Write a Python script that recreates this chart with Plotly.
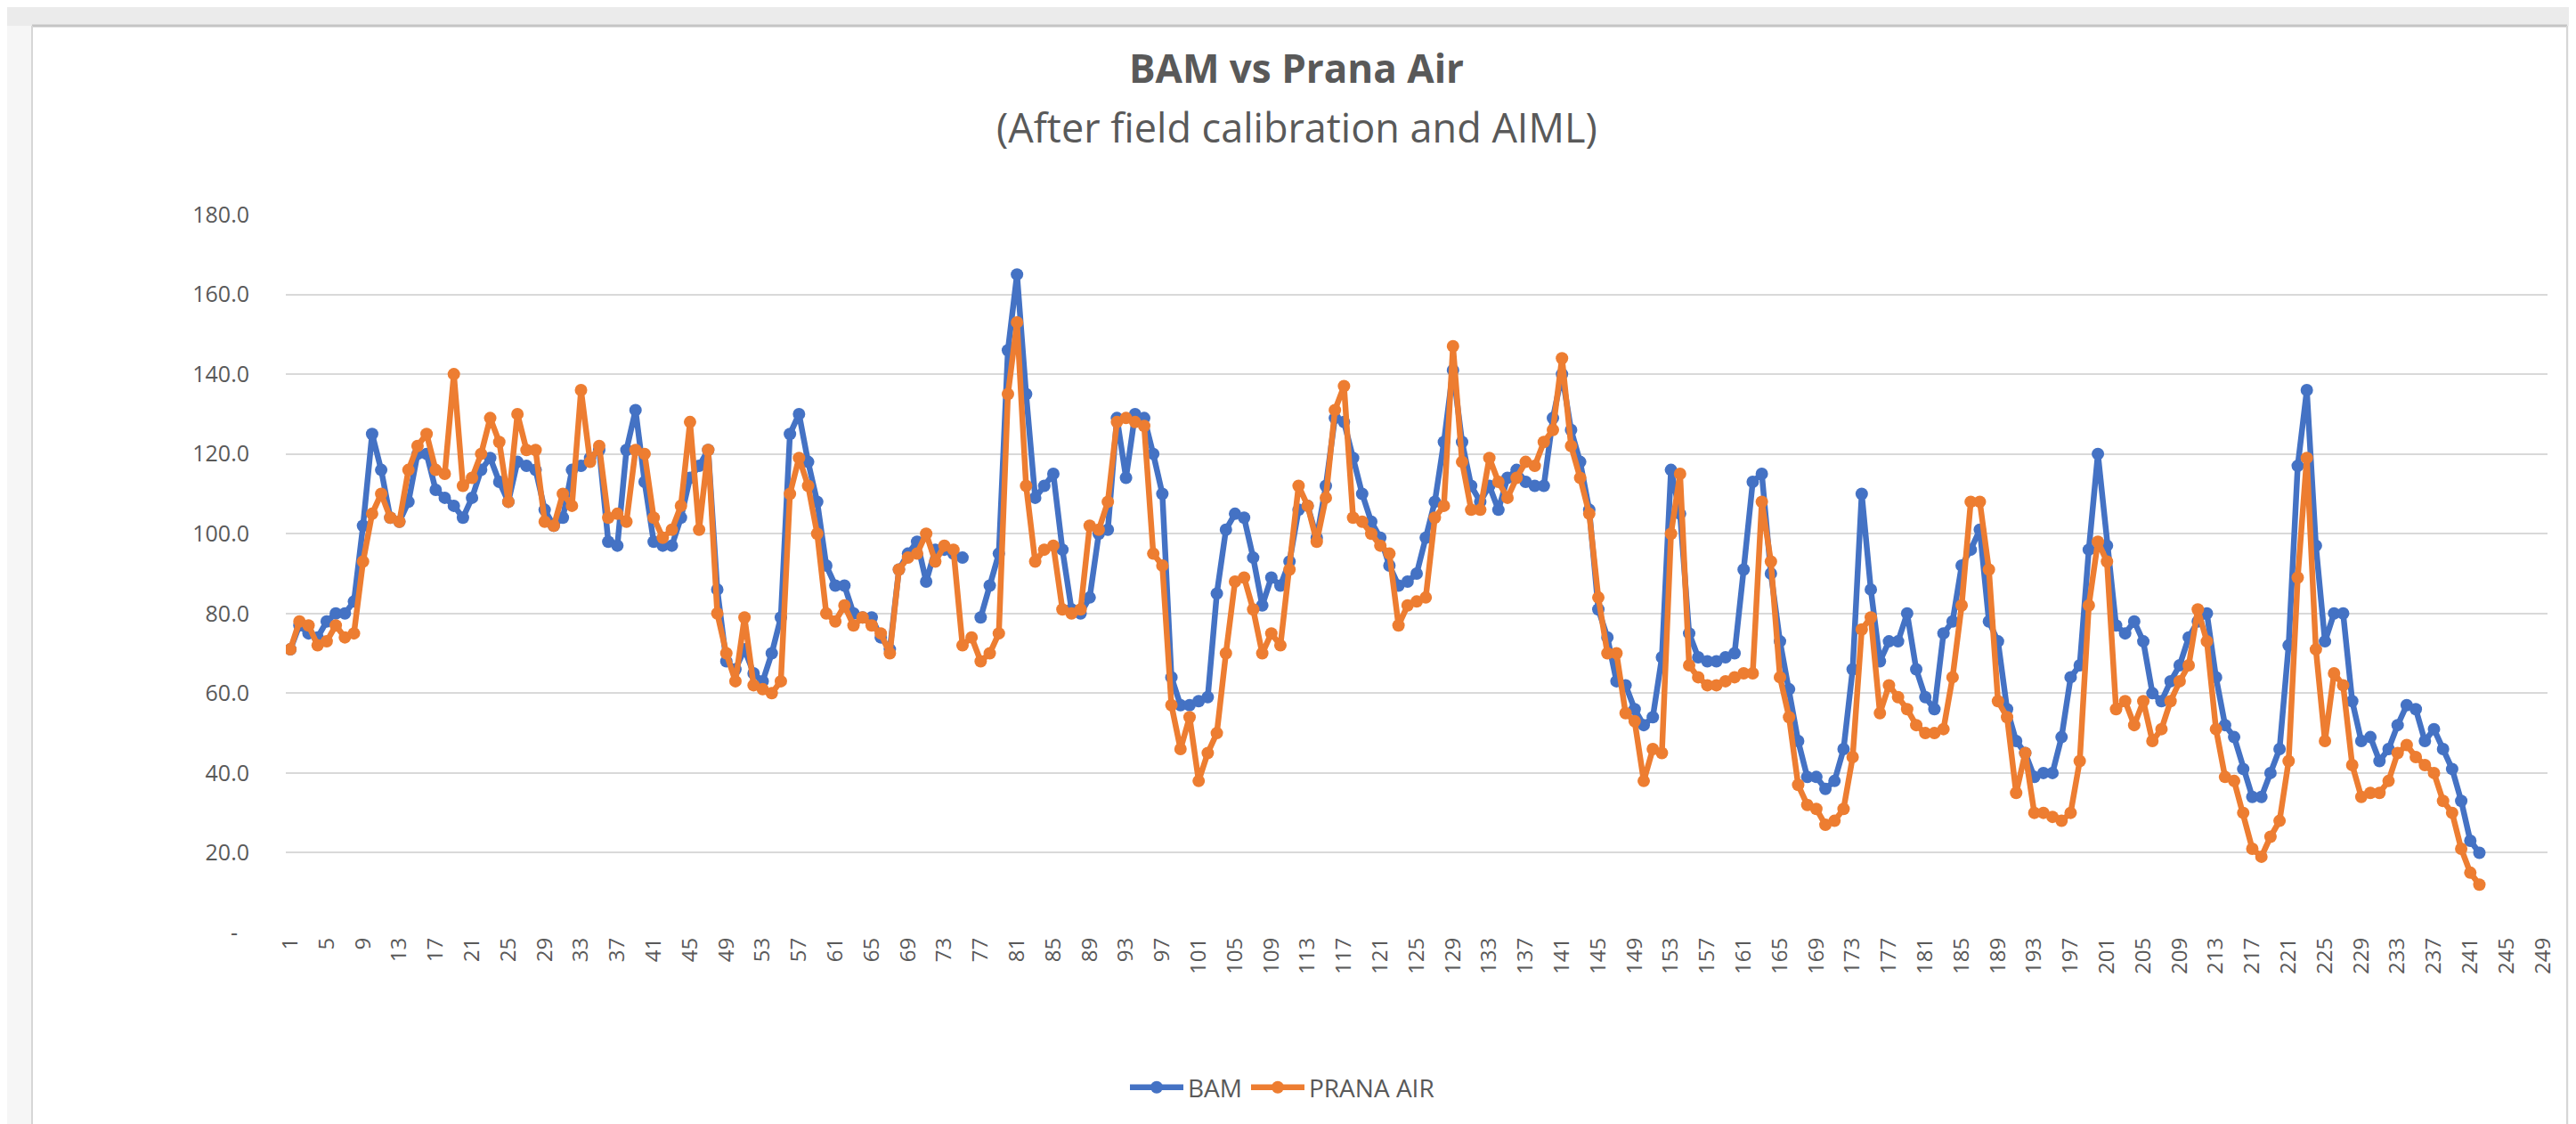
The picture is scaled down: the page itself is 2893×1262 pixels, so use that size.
import plotly.graph_objects as go

# ---------------- data ----------------
categories = list(range(1, 250))            # category axis 1..249
x_tick_labels = [str(c) for c in categories[::4]]
y_tick_values = [0, 20, 40, 60, 80, 100, 120, 140, 160, 180]
y_tick_labels = ["-\u00a0\u00a0", "20.0", "40.0", "60.0", "80.0", "100.0",
                 "120.0", "140.0", "160.0", "180.0"]

bam = [
    71, 77, 75, 74, 78, 80, 80, 83, 102, 125,
    116, 104, 103, 108, 120, 120, 111, 109, 107, 104,
    109, 116, 119, 113, 108, 118, 117, 116, 106, 102,
    104, 116, 117, 119, 121, 98, 97, 121, 131, 113,
    98, 97, 97, 104, 114, 117, 121, 86, 68, 66,
    71, 65, 63, 70, 79, 125, 130, 118, 108, 92,
    87, 87, 80, 79, 79, 74, 71, 91, 95, 98,
    88, 96, 96, 95, 94, None, 79, 87, 95, 146,
    165, 135, 109, 112, 115, 96, 81, 80, 84, 100,
    101, 129, 114, 130, 129, 120, 110, 64, 57, 57,
    58, 59, 85, 101, 105, 104, 94, 82, 89, 87,
    93, 106, 107, 99, 112, 129, 128, 119, 110, 103,
    99, 92, 87, 88, 90, 99, 108, 123, 141, 123,
    112, 108, 112, 106, 114, 116, 113, 112, 112, 129,
    140, 126, 118, 106, 81, 74, 63, 62, 56, 52,
    54, 69, 116, 105, 75, 69, 68, 68, 69, 70,
    91, 113, 115, 90, 73, 61, 48, 39, 39, 36,
    38, 46, 66, 110, 86, 68, 73, 73, 80, 66,
    59, 56, 75, 78, 92, 96, 101, 78, 73, 56,
    48, 45, 39, 40, 40, 49, 64, 67, 96, 120,
    97, 77, 75, 78, 73, 60, 58, 63, 67, 74,
    78, 80, 64, 52, 49, 41, 34, 34, 40, 46,
    72, 117, 136, 97, 73, 80, 80, 58, 48, 49,
    43, 46, 52, 57, 56, 48, 51, 46, 41, 33,
    23, 20,
]

prana_air = [
    71, 78, 77, 72, 73, 77, 74, 75, 93, 105,
    110, 104, 103, 116, 122, 125, 116, 115, 140, 112,
    114, 120, 129, 123, 108, 130, 121, 121, 103, 102,
    110, 107, 136, 118, 122, 104, 105, 103, 121, 120,
    104, 99, 101, 107, 128, 101, 121, 80, 70, 63,
    79, 62, 61, 60, 63, 110, 119, 112, 100, 80,
    78, 82, 77, 79, 77, 75, 70, 91, 94, 95,
    100, 93, 97, 96, 72, 74, 68, 70, 75, 135,
    153, 112, 93, 96, 97, 81, 80, 81, 102, 101,
    108, 128, 129, 128, 127, 95, 92, 57, 46, 54,
    38, 45, 50, 70, 88, 89, 81, 70, 75, 72,
    91, 112, 107, 98, 109, 131, 137, 104, 103, 100,
    97, 95, 77, 82, 83, 84, 104, 107, 147, 118,
    106, 106, 119, 113, 109, 114, 118, 117, 123, 126,
    144, 122, 114, 105, 84, 70, 70, 55, 53, 38,
    46, 45, 100, 115, 67, 64, 62, 62, 63, 64,
    65, 65, 108, 93, 64, 54, 37, 32, 31, 27,
    28, 31, 44, 76, 79, 55, 62, 59, 56, 52,
    50, 50, 51, 64, 82, 108, 108, 91, 58, 54,
    35, 45, 30, 30, 29, 28, 30, 43, 82, 98,
    93, 56, 58, 52, 58, 48, 51, 58, 63, 67,
    81, 73, 51, 39, 38, 30, 21, 19, 24, 28,
    43, 89, 119, 71, 48, 65, 62, 42, 34, 35,
    35, 38, 45, 47, 44, 42, 40, 33, 30, 21,
    15, 12,
]

# ---------------- figure ----------------
W, H = 2893, 1262
L, R, T, B = 313, 40, 233, 223
PW, PH = W - L - R, H - T - B


def px(xp):
    return (xp - L) / PW


def py(yp):
    return (H - B - yp) / PH


BLUE = "#4472C4"
ORANGE = "#ED7D31"
GREY_TXT = "#595959"
FONT = "Open Sans"

fig = go.Figure()
fig.add_trace(go.Scatter(
    x=categories[:len(bam)], y=bam, name="BAM", mode="lines+markers",
    line=dict(color=BLUE, width=6.5), marker=dict(color=BLUE, size=14),
    connectgaps=False,
))
fig.add_trace(go.Scatter(
    x=categories[:len(prana_air)], y=prana_air, name="PRANA AIR",
    mode="lines+markers",
    line=dict(color=ORANGE, width=6.5), marker=dict(color=ORANGE, size=14),
    connectgaps=False,
))

shapes = [
    # light surround of the screenshot frame
    dict(type="rect", xref="paper", yref="paper", x0=px(-5), x1=px(28),
         y0=py(H + 5), y1=py(-5), fillcolor="#f6f6f6", line=dict(width=0),
         layer="below"),
    dict(type="rect", xref="paper", yref="paper", x0=px(2875), x1=px(W + 5),
         y0=py(H + 5), y1=py(-5), fillcolor="#f6f6f6", line=dict(width=0),
         layer="below"),
    dict(type="rect", xref="paper", yref="paper", x0=px(-5), x1=px(W + 5),
         y0=py(21), y1=py(-5), fillcolor="#ebebeb", line=dict(width=0),
         layer="below"),
    dict(type="line", xref="paper", yref="paper", x0=px(28), x1=px(2875),
         y0=py(21), y1=py(21), line=dict(color="#c4c4c4", width=3)),
    dict(type="line", xref="paper", yref="paper", x0=px(28), x1=px(28),
         y0=py(21), y1=py(H + 5), line=dict(color="#d6d6d6", width=2)),
    dict(type="line", xref="paper", yref="paper", x0=px(2875), x1=px(2875),
         y0=py(21), y1=py(H + 5), line=dict(color="#d6d6d6", width=2)),
]

annotations = [
    dict(text="<b>BAM vs Prana Air</b>", xref="paper", yref="paper",
         x=px(1448), y=py(68), xanchor="center", yanchor="middle",
         showarrow=False, font=dict(family=FONT, size=44, color=GREY_TXT)),
    dict(text="(After field calibration and AIML)", xref="paper", yref="paper",
         x=px(1448), y=py(134), xanchor="center", yanchor="middle",
         showarrow=False, font=dict(family=FONT, size=45, color=GREY_TXT)),
]

fig.update_layout(
    width=W, height=H,
    margin=dict(l=L, r=R, t=T, b=B, pad=0),
    paper_bgcolor="#ffffff", plot_bgcolor="#ffffff",
    font=dict(family=FONT, color=GREY_TXT),
    showlegend=True,
    legend=dict(orientation="h", x=px(1432), xanchor="center",
                y=py(1213), yanchor="middle",
                font=dict(family=FONT, size=28, color=GREY_TXT),
                itemwidth=60, bgcolor="rgba(0,0,0,0)"),
    shapes=shapes,
    annotations=annotations,
    xaxis=dict(
        range=[0.5, len(categories) + 0.5],
        tickmode="array", tickvals=categories[::4], ticktext=x_tick_labels,
        tickangle=-90, tickfont=dict(family=FONT, size=24, color=GREY_TXT),
        showgrid=False, zeroline=False, showline=False, ticks="",
    ),
    yaxis=dict(
        range=[0, 180],
        tickmode="array", tickvals=y_tick_values, ticktext=y_tick_labels,
        tickfont=dict(family=FONT, size=25, color=GREY_TXT),
        showgrid=True, gridcolor="#d9d9d9", gridwidth=2,
        zeroline=False, showline=False, ticks="",
        ticklabelstandoff=40,
    ),
)

fig.write_html("out.html", config={"displayModeBar": False})
